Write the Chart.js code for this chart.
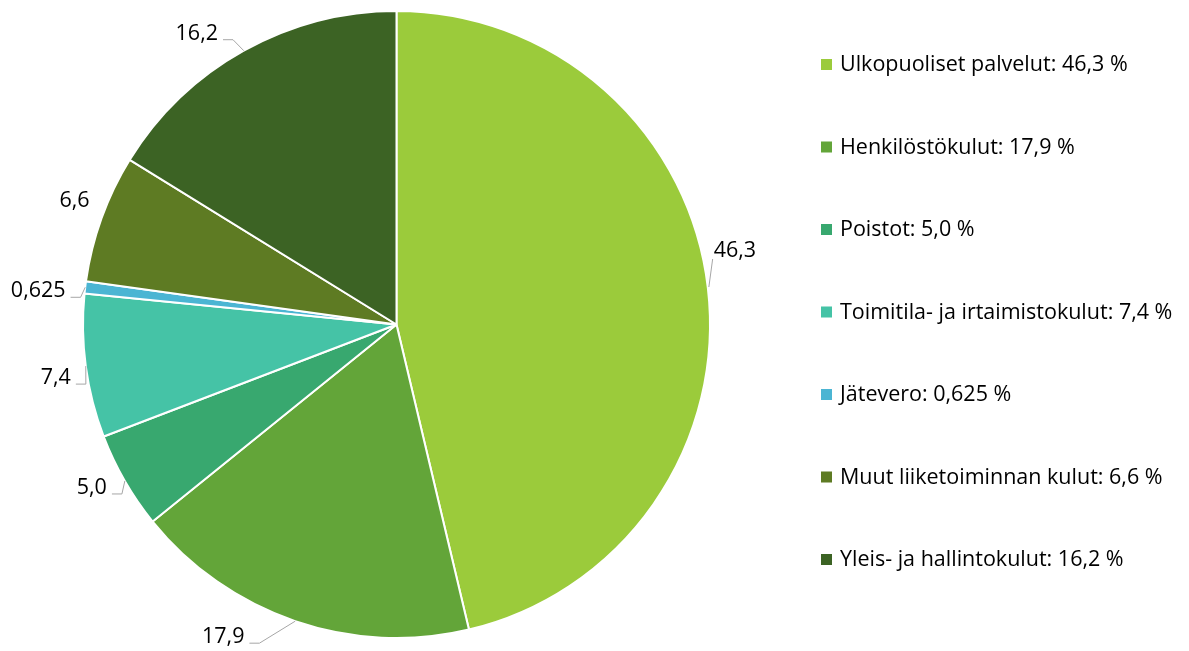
<!DOCTYPE html>
<html>
<head>
<meta charset="utf-8">
<script src="https://cdn.jsdelivr.net/npm/chart.js@4/dist/chart.umd.min.js"></script>
<style>
  html, body { margin: 0; padding: 0; background: #fff; }
  #wrap { width: 1189px; height: 651px; position: relative; }
</style>
</head>
<body>
<div id="wrap"><canvas id="chart"></canvas></div>
<script>
// data
const categories = [
  "Ulkopuoliset palvelut",
  "Henkilöstökulut",
  "Poistot",
  "Toimitila- ja irtaimistokulut",
  "Jätevero",
  "Muut liiketoiminnan kulut",
  "Yleis- ja hallintokulut"
];
const values = [46.3, 17.9, 5.0, 7.4, 0.625, 6.6, 16.2];
const valueLabels = ["46,3", "17,9", "5,0", "7,4", "0,625", "6,6", "16,2"];

const colors = ["#9BCB3B", "#63A539", "#38A86F", "#45C3A6", "#4BB5D3", "#5E7B23", "#3C6324"];
const FONT = "21.5px 'Open Sans', 'Noto Sans', sans-serif";

// label placement relative to the slice mid point on the rim (dx, dy of text centre)
const labelOffsets = [[27, -37], [-72, 16], [-33, 7], [-30, 12], [-47, 4], [-27, -17], [-47, -17]];
const labelLeader = [true, true, true, true, true, false, true];

const labelPlugin = {
  id: "outsideLabels",
  afterDatasetsDraw(chart) {
    const ctx = chart.ctx;
    const meta = chart.getDatasetMeta(0);
    ctx.save();
    ctx.font = FONT;
    ctx.textBaseline = "middle";
    ctx.textAlign = "center";
    meta.data.forEach((arc, i) => {
      const p = arc.getProps(["x", "y", "startAngle", "endAngle", "outerRadius"], true);
      const mid = (p.startAngle + p.endAngle) / 2;
      const ax = p.x + Math.cos(mid) * p.outerRadius;
      const ay = p.y + Math.sin(mid) * p.outerRadius;
      const lx = ax + labelOffsets[i][0];
      const ly = ay + labelOffsets[i][1];
      const txt = valueLabels[i];
      const w = ctx.measureText(txt).width;
      ctx.fillStyle = "#000";
      ctx.fillText(txt, lx, ly);
      if (!labelLeader[i]) return;
      ctx.strokeStyle = "#A6A6A6";
      ctx.lineWidth = 1;
      ctx.beginPath();
      if (lx > ax) {
        ctx.moveTo(ax + 1, ay - 1);
        ctx.lineTo(lx - w / 2 - 1, ly + 8);
      } else {
        const ex = lx + w / 2 + 5;
        const ey = ly + 6;
        ctx.moveTo(ax, ay);
        ctx.lineTo(ex + 10, ey);
        ctx.lineTo(ex, ey);
      }
      ctx.stroke();
    });
    ctx.restore();
  }
};

const legendPlugin = {
  id: "sideLegend",
  afterDraw(chart) {
    const ctx = chart.ctx;
    ctx.save();
    ctx.font = FONT;
    ctx.textBaseline = "middle";
    ctx.textAlign = "left";
    categories.forEach((c, i) => {
      const y = 64 + i * 82.5;
      ctx.fillStyle = colors[i];
      ctx.fillRect(821, y - 5, 11, 11);
      ctx.fillStyle = "#000";
      ctx.fillText(c + ": " + valueLabels[i] + " %", 840, y + 1);
    });
    ctx.restore();
  }
};

new Chart(document.getElementById("chart"), {
  type: "pie",
  data: {
    labels: categories,
    datasets: [{
      data: values,
      backgroundColor: colors,
      borderColor: "#ffffff",
      borderWidth: 2
    }]
  },
  options: {
    responsive: true,
    maintainAspectRatio: false,
    animation: false,
    layout: { padding: { left: 0, right: 396, top: 10, bottom: 12 } },
    plugins: {
      legend: { display: false },
      tooltip: { enabled: false }
    }
  },
  plugins: [labelPlugin, legendPlugin]
});
</script>
</body>
</html>
